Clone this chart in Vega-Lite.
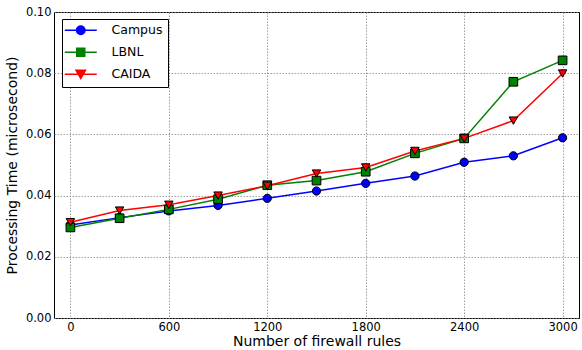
{
  "$schema": "https://vega.github.io/schema/vega-lite/v6.json",
  "width": 525,
  "height": 306,
  "autosize": {"type": "none"},
  "padding": {"left": 54, "top": 12, "right": 3, "bottom": 32},
  "background": "white",
  "config": {
    "font": "DejaVu Sans",
    "view": {"stroke": "black", "strokeWidth": 1},
    "axis": {
      "labelFont": "DejaVu Sans",
      "titleFont": "DejaVu Sans",
      "labelFontSize": 11.5,
      "titleFontSize": 14,
      "titleFontWeight": "normal",
      "labelColor": "black",
      "titleColor": "black",
      "domain": false,
      "ticks": false,
      "grid": true,
      "gridColor": "#888888",
      "gridDash": [1.5, 1.5],
      "gridWidth": 0.8
    }
  },
  "data": {
    "values": [
      {"rules": 0, "series": "Campus", "time": 0.0304},
      {"rules": 300, "series": "Campus", "time": 0.0328},
      {"rules": 600, "series": "Campus", "time": 0.0350},
      {"rules": 900, "series": "Campus", "time": 0.0368},
      {"rules": 1200, "series": "Campus", "time": 0.0391},
      {"rules": 1500, "series": "Campus", "time": 0.0415},
      {"rules": 1800, "series": "Campus", "time": 0.0440},
      {"rules": 2100, "series": "Campus", "time": 0.0464},
      {"rules": 2400, "series": "Campus", "time": 0.0509},
      {"rules": 2700, "series": "Campus", "time": 0.0530},
      {"rules": 3000, "series": "Campus", "time": 0.0589},
      {"rules": 0, "series": "LBNL", "time": 0.0296},
      {"rules": 300, "series": "LBNL", "time": 0.0326},
      {"rules": 600, "series": "LBNL", "time": 0.0355},
      {"rules": 900, "series": "LBNL", "time": 0.0388},
      {"rules": 1200, "series": "LBNL", "time": 0.0434},
      {"rules": 1500, "series": "LBNL", "time": 0.0449},
      {"rules": 1800, "series": "LBNL", "time": 0.0478},
      {"rules": 2100, "series": "LBNL", "time": 0.0538},
      {"rules": 2400, "series": "LBNL", "time": 0.0587},
      {"rules": 2700, "series": "LBNL", "time": 0.0772},
      {"rules": 3000, "series": "LBNL", "time": 0.0842},
      {"rules": 0, "series": "CAIDA", "time": 0.0313},
      {"rules": 300, "series": "CAIDA", "time": 0.0351},
      {"rules": 600, "series": "CAIDA", "time": 0.0370},
      {"rules": 900, "series": "CAIDA", "time": 0.0400},
      {"rules": 1200, "series": "CAIDA", "time": 0.0432},
      {"rules": 1500, "series": "CAIDA", "time": 0.0472},
      {"rules": 1800, "series": "CAIDA", "time": 0.0492},
      {"rules": 2100, "series": "CAIDA", "time": 0.0546},
      {"rules": 2400, "series": "CAIDA", "time": 0.0587},
      {"rules": 2700, "series": "CAIDA", "time": 0.0645},
      {"rules": 3000, "series": "CAIDA", "time": 0.0799}
    ]
  },
  "encoding": {
    "x": {
      "field": "rules",
      "type": "quantitative",
      "scale": {"domain": [-100, 3100], "nice": false, "zero": false},
      "axis": {"values": [0, 600, 1200, 1800, 2400, 3000], "title": "Number of firewall rules", "labelPadding": 3, "titlePadding": 2, "format": "d", "labelFlush": false}
    },
    "y": {
      "field": "time",
      "type": "quantitative",
      "scale": {"domain": [0, 0.1], "nice": false},
      "axis": {"values": [0, 0.02, 0.04, 0.06, 0.08, 0.1], "format": ".2f", "title": "Processing Time (microsecond)", "labelPadding": 3, "titlePadding": 6, "labelFlush": false}
    },
    "color": {
      "field": "series",
      "type": "nominal",
      "scale": {"domain": ["Campus", "LBNL", "CAIDA"], "range": ["#0000ff", "#008000", "#ff0000"]},
      "legend": {
        "title": null,
        "orient": "none",
        "legendX": 8,
        "legendY": 7,
        "strokeColor": "black",
        "fillColor": "white",
        "padding": 5,
        "labelFont": "DejaVu Sans",
        "labelFontSize": 12.5,
        "labelColor": "black",
        "labelOffset": 32,
        "rowPadding": 7,
        "symbolSize": 100,
        "symbolStrokeWidth": 1.5,
        "cornerRadius": 0,
        "encode": {
          "symbols": {
            "update": {
              "shape": {"signal": "datum.value === 'Campus' ? 'M-1.7,0H4.7M0.65,0A0.85,0.85,0,1,0,2.35,0A0.85,0.85,0,1,0,0.65,0Z' : datum.value === 'LBNL' ? 'M-1.7,0H4.7M0.7,-0.8H2.3V0.8H0.7Z' : 'M-1.7,0H4.7M0.55,-0.8L2.45,-0.8L1.5,0.85Z'"},
              "stroke": {"signal": "datum.value === 'Campus' ? '#0000ff' : datum.value === 'LBNL' ? '#008000' : '#ff0000'"},
              "fill": {"signal": "datum.value === 'Campus' ? '#0000ff' : datum.value === 'LBNL' ? '#008000' : '#ff0000'"},
              "opacity": {"value": 1},
              "fillOpacity": {"value": 1}
            }
          }
        }
      }
    }
  },
  "layer": [
    {
      "mark": {"type": "line", "strokeWidth": 1.5}
    },
    {
      "transform": [{"filter": "datum.series === 'Campus'"}],
      "mark": {"type": "point", "shape": "circle", "filled": true, "stroke": "black", "strokeWidth": 1, "opacity": 1, "size": 68}
    },
    {
      "transform": [{"filter": "datum.series === 'LBNL'"}],
      "mark": {"type": "point", "shape": "square", "filled": true, "stroke": "black", "strokeWidth": 1, "opacity": 1, "size": 75}
    },
    {
      "transform": [{"filter": "datum.series === 'CAIDA'"}],
      "mark": {"type": "point", "shape": "triangle-down", "filled": true, "stroke": "black", "strokeWidth": 1, "opacity": 1, "size": 72}
    }
  ]
}
